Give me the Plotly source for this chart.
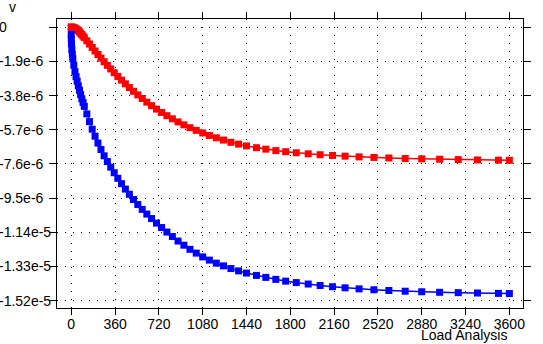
import plotly.graph_objects as go

# Time steps of the load analysis (s), shared by both monitored nodes
times = [0, 0.5, 2, 5, 9, 13, 21, 30.6, 39.5, 48.8, 58, 67.6, 77, 87.1, 97,
         107.3, 128.2, 149.8, 172.2, 195.4, 219.4, 244.3, 270.1, 296.8, 324.4,
         353, 382.6, 413.2, 444.9, 477.7, 511.7, 546.9, 583.3, 621, 660,
         700.5, 742.5, 786, 831, 877.5, 925.5, 975.5, 1027, 1080, 1135,
         1192, 1251, 1312, 1375, 1440, 1522, 1599, 1681, 1762, 1849,
         1947, 2045, 2147, 2250, 2365, 2487, 2610, 2744, 2880, 3027,
         3180, 3338, 3510, 3600]

# Vertical displacement v of the first node (red)
v_red = [0, 0, -0.001e-6, -0.003e-6, -0.006e-6, -0.011e-6, -0.028e-6, -0.053e-6,
         -0.09e-6, -0.138e-6, -0.197e-6, -0.265e-6, -0.336e-6, -0.413e-6, -0.494e-6,
         -0.578e-6, -0.753e-6, -0.933e-6, -1.124e-6, -1.320e-6, -1.516e-6,
         -1.717e-6, -1.919e-6, -2.12e-6, -2.321e-6, -2.528e-6, -2.735e-6,
         -2.942e-6, -3.148e-6, -3.355e-6, -3.562e-6, -3.763e-6, -3.964e-6,
         -4.166e-6, -4.362e-6, -4.553e-6, -4.738e-6, -4.918e-6, -5.093e-6,
         -5.263e-6, -5.427e-6, -5.586e-6, -5.735e-6, -5.878e-6, -6.016e-6,
         -6.148e-6, -6.275e-6, -6.40e-6, -6.50e-6, -6.60e-6, -6.70e-6,
         -6.78e-6, -6.86e-6, -6.92e-6, -6.98e-6, -7.04e-6, -7.09e-6,
         -7.13e-6, -7.17e-6, -7.21e-6, -7.24e-6, -7.27e-6, -7.30e-6,
         -7.32e-6, -7.34e-6, -7.36e-6, -7.38e-6, -7.39e-6, -7.40e-6]

# Vertical displacement v of the second node (blue)
v_blue = [-0.40e-6, -0.66e-6, -0.93e-6, -1.24e-6, -1.52e-6, -1.75e-6, -2.11e-6,
          -2.47e-6, -2.75e-6, -3.00e-6, -3.26e-6, -3.50e-6, -3.74e-6, -3.98e-6,
          -4.19e-6, -4.40e-6, -4.82e-6, -5.25e-6, -5.67e-6, -6.06e-6, -6.44e-6,
          -6.80e-6, -7.15e-6, -7.47e-6, -7.78e-6, -8.09e-6, -8.40e-6, -8.70e-6,
          -9.00e-6, -9.29e-6, -9.58e-6, -9.86e-6, -10.13e-6, -10.39e-6,
          -10.64e-6, -10.89e-6, -11.14e-6, -11.39e-6, -11.64e-6, -11.89e-6,
          -12.12e-6, -12.35e-6, -12.56e-6, -12.77e-6, -12.95e-6, -13.12e-6,
          -13.27e-6, -13.42e-6, -13.55e-6, -13.67e-6, -13.80e-6, -13.91e-6,
          -14.02e-6, -14.12e-6, -14.20e-6, -14.28e-6, -14.36e-6, -14.43e-6,
          -14.49e-6, -14.55e-6, -14.60e-6, -14.64e-6, -14.68e-6, -14.71e-6,
          -14.74e-6, -14.76e-6, -14.78e-6, -14.80e-6, -14.81e-6]

x_ticks = [0, 360, 720, 1080, 1440, 1800, 2160, 2520, 2880, 3240, 3600]
y_ticks = [0, -1.9e-6, -3.8e-6, -5.7e-6, -7.6e-6, -9.5e-6, -1.14e-5, -1.33e-5, -1.52e-5]
y_tick_text = ["0", "-1.9e-6", "-3.8e-6", "-5.7e-6", "-7.6e-6", "-9.5e-6",
               "-1.14e-5", "-1.33e-5", "-1.52e-5"]

FONT = "Liberation Sans, Arial, sans-serif"
W, H = 543, 344
ML, MR, MT, MB = 57, 18, 19, 34
PW, PH = W - ML - MR, H - MT - MB

fig = go.Figure()
for vals, col in ((v_red, "#ff0000"), (v_blue, "#0000ff")):
    fig.add_trace(go.Scatter(
        x=times, y=vals, mode="lines+markers",
        line=dict(color=col, width=1.5),
        marker=dict(symbol="square", size=7, color=col, line=dict(width=0)),
        showlegend=False,
    ))

axis_common = dict(
    showline=True, linecolor="black", linewidth=1, mirror="ticks",
    ticks="outside", tickcolor="black", tickwidth=1,
    showgrid=True, gridcolor="black", gridwidth=1, griddash="1px,7px",
    zeroline=False,
)

fig.update_xaxes(
    range=[-117, 3712], tickmode="array", tickvals=x_ticks,
    ticktext=[str(t) for t in x_ticks], ticklen=6, ticklabelstandoff=-3,
    tickfont=dict(family=FONT, size=14, color="black"),
    **axis_common,
)
fig.update_yaxes(
    range=[-1.5613e-5, 4.58e-7], tickmode="array", tickvals=y_ticks,
    showticklabels=False, ticklen=7,
    **axis_common,
)

# Left-aligned value labels for the v axis
for val, txt in zip(y_ticks, y_tick_text):
    fig.add_annotation(
        x=(-3 - ML) / PW, xref="paper", xanchor="left",
        y=val, yref="y", yanchor="middle",
        text=txt, showarrow=False,
        font=dict(family=FONT, size=14, color="black"),
    )

fig.add_annotation(
    x=(12 - ML) / PW, xref="paper", xanchor="center",
    y=(PH + MT - 7) / PH, yref="paper", yanchor="middle",
    text="v", showarrow=False,
    font=dict(family=FONT, size=14, color="black"),
)
fig.add_annotation(
    x=(509.5 - ML) / PW, xref="paper", xanchor="right",
    y=(PH + MT - 337) / PH, yref="paper", yanchor="middle",
    text="Load Analysis", showarrow=False, borderpad=0,
    font=dict(family=FONT, size=14, color="black"),
)

fig.update_layout(
    width=W, height=H,
    margin=dict(l=ML, r=MR, t=MT, b=MB, pad=0),
    paper_bgcolor="white", plot_bgcolor="white",
    font=dict(family=FONT, size=14, color="black"),
)

fig.write_html("out.html")
